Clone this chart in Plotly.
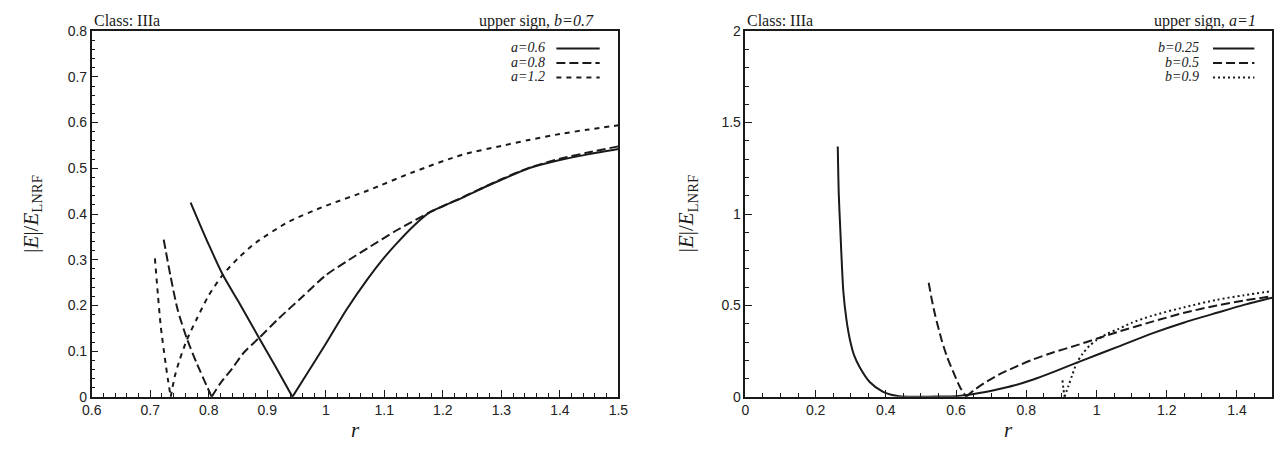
import plotly.graph_objects as go

W, H = 1288, 456

# ---------------- data ----------------
# Left panel: upper sign, b=0.7
r_a06 = [0.769, 0.785, 0.80, 0.824, 0.85, 0.886, 0.915, 0.943, 0.97, 1.0, 1.035, 1.071, 1.10,
         1.122, 1.15, 1.178, 1.20, 1.234, 1.27, 1.30, 1.347, 1.40, 1.45, 1.50]
E_a06 = [0.425, 0.377, 0.333, 0.267, 0.210, 0.129, 0.064, 0.0, 0.055, 0.116, 0.190, 0.257, 0.305,
         0.337, 0.374, 0.404, 0.417, 0.436, 0.458, 0.475, 0.500, 0.518, 0.531, 0.542]

r_a08 = [0.723, 0.735, 0.747, 0.763, 0.78, 0.805, 0.82, 0.84, 0.86, 0.886, 0.92, 0.96, 1.0,
         1.04, 1.071, 1.122, 1.178, 1.234, 1.30, 1.347, 1.40, 1.45, 1.50]
E_a08 = [0.344, 0.262, 0.190, 0.126, 0.072, 0.0, 0.030, 0.062, 0.097, 0.129, 0.172, 0.219, 0.266,
         0.300, 0.325, 0.365, 0.404, 0.437, 0.476, 0.501, 0.521, 0.535, 0.548]

r_a12 = [0.708, 0.713, 0.718, 0.725, 0.730, 0.735, 0.742, 0.750, 0.763, 0.78, 0.80, 0.824, 0.85,
         0.88, 0.9365, 1.0, 1.071, 1.15, 1.234, 1.30, 1.347, 1.40, 1.45, 1.50]
E_a12 = [0.303, 0.225, 0.154, 0.085, 0.040, 0.0, 0.045, 0.080, 0.126, 0.172, 0.222, 0.267, 0.303,
         0.337, 0.383, 0.418, 0.451, 0.492, 0.530, 0.549, 0.562, 0.575, 0.585, 0.594]

# Right panel: upper sign, a=1
r_b025 = [0.263, 0.266, 0.270, 0.279, 0.288, 0.298, 0.310, 0.326, 0.354, 0.391, 0.415, 0.438,
          0.48, 0.52, 0.56, 0.60, 0.63, 0.67, 0.72, 0.7645, 0.82, 0.88, 0.944, 1.0, 1.06,
          1.1566, 1.25, 1.343, 1.42, 1.50]
E_b025 = [1.369, 1.104, 0.928, 0.575, 0.420, 0.310, 0.225, 0.160, 0.081, 0.028, 0.012, 0.004,
          0.001, 0.001, 0.002, 0.004, 0.010, 0.022, 0.042, 0.062, 0.095, 0.138, 0.187, 0.229, 0.273,
          0.346, 0.407, 0.460, 0.503, 0.542]

r_b05 = [0.522, 0.530, 0.540, 0.559, 0.575, 0.5965, 0.612, 0.629, 0.65, 0.68, 0.72, 0.7645,
         0.82, 0.88, 0.94, 1.0, 1.06, 1.1566, 1.25, 1.343, 1.42, 1.50]
E_b05 = [0.624, 0.540, 0.450, 0.310, 0.215, 0.116, 0.050, 0.0, 0.035, 0.075, 0.120, 0.160,
         0.205, 0.245, 0.280, 0.318, 0.355, 0.410, 0.460, 0.500, 0.527, 0.550]

r_b09 = [0.903, 0.906, 0.909, 0.92, 0.93, 0.944, 0.96, 0.98, 1.0, 1.03, 1.063, 1.10, 1.1566,
         1.25, 1.343, 1.42, 1.50]
E_b09 = [0.090, 0.040, 0.0, 0.060, 0.115, 0.187, 0.235, 0.280, 0.310, 0.345, 0.372, 0.405, 0.443,
         0.490, 0.531, 0.556, 0.578]

left_labels = ["a=0.6", "a=0.8", "a=1.2"]
right_labels = ["b=0.25", "b=0.5", "b=0.9"]

# ---------------- styling ----------------
INK = "#1a1a1a"
DASH_SOLID = "solid"
DASH_LONG = "9px,4px"
DASH_SHORT = "5px,5px"
DASH_DOT = "2px,3px"
LW = 2

left_series = [(r_a06, E_a06, DASH_SOLID), (r_a08, E_a08, DASH_LONG), (r_a12, E_a12, DASH_SHORT)]
right_series = [(r_b025, E_b025, DASH_SOLID), (r_b05, E_b05, DASH_LONG), (r_b09, E_b09, DASH_DOT)]

fig = go.Figure()


def add_curve(rx, ey, dash, name, xa, ya):
    # split V-shaped curves at their exact zero so the cusp stays sharp
    pieces = [(0, len(rx))]
    if 0.0 in ey:
        k = ey.index(0.0)
        pieces = [(0, k + 1), (k, len(rx))]
    for a, b in pieces:
        fig.add_trace(go.Scatter(x=rx[a:b], y=ey[a:b], mode="lines", name=name, xaxis=xa, yaxis=ya,
                                 line=dict(color=INK, width=LW, dash=dash, shape="spline",
                                           smoothing=0.7),
                                 showlegend=False))


for (rx, ey, dash), name in zip(left_series, left_labels):
    add_curve(rx, ey, dash, name, "x", "y")
for (rx, ey, dash), name in zip(right_series, right_labels):
    add_curve(rx, ey, dash, name, "x2", "y2")


def px(p):
    return p / W


def py(p):
    return 1 - p / H


L0, L1 = 83, 618
R0, R1 = 747, 1282
T0, B0 = 24, 403

tickfont = dict(family="Liberation Sans, Arial, sans-serif", size=14, color="#222")


def axis(domain, rng, dtick, minor_dtick, tick0):
    return dict(domain=domain, range=rng, dtick=dtick, tick0=tick0, ticks="inside", ticklen=7,
                tickwidth=1, tickcolor=INK, showline=True, linecolor=INK, linewidth=1.5,
                mirror=True, showgrid=False, zeroline=False, tickfont=tickfont, fixedrange=True,
                minor=dict(dtick=minor_dtick, ticks="inside", ticklen=4, tickcolor=INK,
                           tickwidth=1, showgrid=False))


ydom = [py(B0), py(T0)]
fig.update_layout(
    width=W, height=H, margin=dict(l=0, r=0, t=0, b=0),
    paper_bgcolor="white", plot_bgcolor="white", showlegend=False,
    xaxis=axis([px(L0), px(L1)], [0.6, 1.5], 0.1, 0.02, 0.6),
    yaxis=dict(axis(ydom, [0, 0.8], 0.1, 0.02, 0), anchor="x"),
    xaxis2=dict(axis([px(R0), px(R1)], [0, 1.5], 0.2, 0.05, 0), anchor="y2"),
    yaxis2=dict(axis(ydom, [0, 2], 0.5, 0.1, 0), anchor="x2"),
)

serif = "Liberation Serif, Times New Roman, serif"
ann = []


def note(x, y, text, xanchor="center", size=14, angle=0):
    ann.append(dict(x=px(x), y=py(y), xref="paper", yref="paper", text=text, showarrow=False,
                    xanchor=xanchor, yanchor="middle", textangle=angle,
                    font=dict(family=serif, size=size, color=INK)))


# panel titles
note(L0, 13, "Class: IIIa", "left", 16)
note(595, 13, "upper sign, <i>b=0.7</i>", "right", 16)
note(R0, 13, "Class: IIIa", "left", 16)
note(1268, 13, "upper sign, <i>a=1</i>", "right", 16)

# axis titles
note((L0 + L1) / 2, 437, "<i>r</i>", "center", 21)
note((R0 + R1) / 2, 437, "<i>r</i>", "center", 21)
ytitle = "|<i>E</i>|/<i>E</i><sub>LNRF</sub>"
note(22, (T0 + B0) / 2, ytitle, "center", 21, -90)
note(688, (T0 + B0) / 2, ytitle, "center", 21, -90)

# hand-made legends (text right-aligned, sample to the right)
rows = [41, 56, 71]
shapes = []
for lab, (_, _, dash), yy in zip(left_labels, left_series, rows):
    note(545, yy, "<i>%s</i>" % lab, "right", 14)
    shapes.append(dict(type="line", xref="paper", yref="paper", x0=px(555), x1=px(599),
                       y0=py(yy + 1), y1=py(yy + 1), line=dict(color=INK, width=LW, dash=dash)))
for lab, (_, _, dash), yy in zip(right_labels, right_series, rows):
    note(1210, yy, "<i>%s</i>" % lab, "right", 14)
    shapes.append(dict(type="line", xref="paper", yref="paper", x0=px(1222), x1=px(1264),
                       y0=py(yy + 1), y1=py(yy + 1), line=dict(color=INK, width=LW, dash=dash)))

fig.update_layout(annotations=ann, shapes=shapes)
fig.write_html("out.html")
